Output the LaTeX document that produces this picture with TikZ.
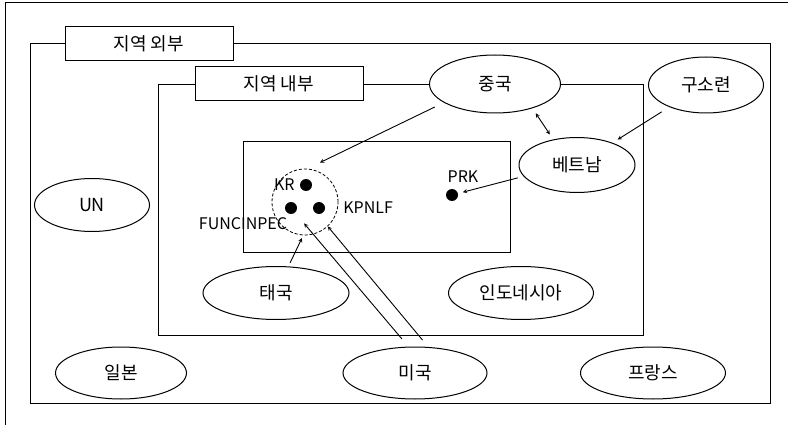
\documentclass[tikz,border=0pt]{standalone}
\usepackage{fontspec}
\setmainfont{Noto Sans CJK KR}
\usetikzlibrary{shapes,arrows,positioning}

\begin{document}
\begin{tikzpicture}[
    x=1pt, y=-1pt,
    font=\fontsize{18}{21}\selectfont,
    region/.style={draw, rectangle, line width=1pt, inner sep=0pt},
    regiontag/.style={draw, rectangle, fill=white, line width=1pt, minimum width=168pt, minimum height=34pt},
    actor/.style={draw, ellipse, fill=white, line width=1pt, inner sep=0pt, minimum height=53pt},
    party/.style={circle, fill, inner sep=0pt, minimum size=12pt},
    partytext/.style={inner sep=0pt, font=\fontsize{16}{19}\selectfont},
    arrow/.style={->, >=stealth, line width=0.9pt}
]
\useasboundingbox (0,0) rectangle (788,425);

% Page frame
\draw[line width=1pt] (788,3) -- (5,3) -- (5,425);

% Regions
\node[region, minimum width=740pt, minimum height=359pt] (outer) at (400,223.5) {};
\node[region, minimum width=485pt, minimum height=250pt] (inner) at (400.5,210) {};
\node[region, minimum width=267pt, minimum height=111pt] (cambodia) at (376.5,197.5) {};
\node[regiontag] (outertag) at (149,44) {지역 외부};
\node[regiontag] (innertag) at (279,84) {지역 내부};

% Coalition and parties
\node[circle, draw, densely dashed, line width=0.8pt, minimum size=66pt] (core) at (305,202) {};
\node[party] (kr) at (306,185) {};
\node[party] (funcinpec) at (291,208) {};
\node[party] (kpnlf) at (319,208) {};
\node[party] (prk) at (452,195) {};
\node[partytext, left=5pt of kr] (krtext) {KR};
\node[partytext, right=18pt of kpnlf] (kpnlftext) {KPNLF};
\node[partytext] (funcinpectext) at (243,223.5) {FUNCINPEC};
\node[partytext] (prktext) at (463,176.5) {PRK};

% Actors
\node[actor, minimum width=131pt, minimum height=58pt] (china) at (495,84) {중국};
\node[actor, minimum width=115pt, minimum height=56pt] (soviet) at (706,85) {구소련};
\node[actor, minimum width=116pt, minimum height=55pt] (vietnam) at (577,165) {베트남};
\node[actor, minimum width=115pt] (un) at (92,205) {UN};
\node[actor, minimum width=146pt] (thailand) at (276,293) {태국};
\node[actor, minimum width=145pt] (indonesia) at (521,293) {인도네시아};
\node[actor, minimum width=131pt, minimum height=52pt] (japan) at (121,373) {일본};
\node[actor, minimum width=144pt, minimum height=52pt] (usa) at (415,373) {미국};
\node[actor, minimum width=145pt, minimum height=52pt] (france) at (653,373) {프랑스};

% Arrows
\draw[arrow, shorten <=10pt, shorten >=14pt] (china.200) -- (core.86);
\draw[arrow, <->, shorten <=6pt, shorten >=6pt] (china.-33) -- (vietnam.133);
\draw[arrow, shorten <=9pt, shorten >=6pt] (soviet.211) -- (vietnam.32);
\draw[arrow, shorten <=6pt, shorten >=5pt] (vietnam.192) -- (prk);
\draw[arrow, shorten <=4pt, shorten >=3pt] (thailand.65) -- (core.267);
\draw[arrow, shorten <=10pt, shorten >=14pt] (usa.104) -- (funcinpec);
\draw[arrow, shorten <=9pt] (usa.63) -- (core.-47);

\end{tikzpicture}
\end{document}
